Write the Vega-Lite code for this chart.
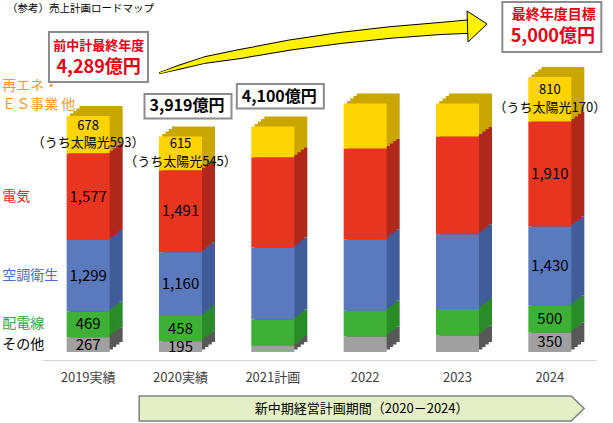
{
  "$schema": "https://vega.github.io/schema/vega-lite/v6.json",
  "width": 554,
  "height": 352,
  "autosize": "none",
  "padding": {"left": 42, "top": 0, "right": 17, "bottom": 71},
  "background": "white",
  "config": {"view": {"stroke": null}, "font": "Noto Sans CJK JP"},
  "title": {
    "text": "（参考）売上計画ロードマップ",
    "anchor": "start",
    "frame": "group",
    "offset": -14,
    "dx": -35,
    "fontSize": 10.5,
    "fontWeight": "normal",
    "color": "#000000",
    "font": "Noto Sans CJK JP"
  },
  "datasets": {
    "bars": [
      {"year": "2019実績", "seg": "その他", "k": 1, "value": 267, "label": "267"},
      {"year": "2019実績", "seg": "配電線", "k": 2, "value": 469, "label": "469"},
      {"year": "2019実績", "seg": "空調衛生", "k": 3, "value": 1299, "label": "1,299"},
      {"year": "2019実績", "seg": "電気", "k": 4, "value": 1577, "label": "1,577"},
      {"year": "2019実績", "seg": "再エネ・ES事業 他", "k": 5, "value": 678, "label": "678\n（うち太陽光593）"},
      {"year": "2020実績", "seg": "その他", "k": 1, "value": 195, "label": "195"},
      {"year": "2020実績", "seg": "配電線", "k": 2, "value": 458, "label": "458"},
      {"year": "2020実績", "seg": "空調衛生", "k": 3, "value": 1160, "label": "1,160"},
      {"year": "2020実績", "seg": "電気", "k": 4, "value": 1491, "label": "1,491"},
      {"year": "2020実績", "seg": "再エネ・ES事業 他", "k": 5, "value": 615, "label": "615\n（うち太陽光545）"},
      {"year": "2021計画", "seg": "その他", "k": 1, "value": 110, "label": ""},
      {"year": "2021計画", "seg": "配電線", "k": 2, "value": 480, "label": ""},
      {"year": "2021計画", "seg": "空調衛生", "k": 3, "value": 1310, "label": ""},
      {"year": "2021計画", "seg": "電気", "k": 4, "value": 1640, "label": ""},
      {"year": "2021計画", "seg": "再エネ・ES事業 他", "k": 5, "value": 560, "label": ""},
      {"year": "2022", "seg": "その他", "k": 1, "value": 280, "label": ""},
      {"year": "2022", "seg": "配電線", "k": 2, "value": 470, "label": ""},
      {"year": "2022", "seg": "空調衛生", "k": 3, "value": 1300, "label": ""},
      {"year": "2022", "seg": "電気", "k": 4, "value": 1650, "label": ""},
      {"year": "2022", "seg": "再エネ・ES事業 他", "k": 5, "value": 820, "label": ""},
      {"year": "2023", "seg": "その他", "k": 1, "value": 300, "label": ""},
      {"year": "2023", "seg": "配電線", "k": 2, "value": 480, "label": ""},
      {"year": "2023", "seg": "空調衛生", "k": 3, "value": 1360, "label": ""},
      {"year": "2023", "seg": "電気", "k": 4, "value": 1780, "label": ""},
      {"year": "2023", "seg": "再エネ・ES事業 他", "k": 5, "value": 600, "label": ""},
      {"year": "2024", "seg": "その他", "k": 1, "value": 350, "label": "350"},
      {"year": "2024", "seg": "配電線", "k": 2, "value": 500, "label": "500"},
      {"year": "2024", "seg": "空調衛生", "k": 3, "value": 1430, "label": "1,430"},
      {"year": "2024", "seg": "電気", "k": 4, "value": 1910, "label": "1,910"},
      {"year": "2024", "seg": "再エネ・ES事業 他", "k": 5, "value": 810, "label": "810\n（うち太陽光170）"}
    ],
    "notes": [
      {"year": "2019実績", "total": 4289, "head": "前中計最終年度", "amount": "4,289億円"},
      {"year": "2020実績", "total": 3919, "head": "", "amount": "3,919億円"},
      {"year": "2021計画", "total": 4100, "head": "", "amount": "4,100億円"},
      {"year": "2024", "total": 5000, "head": "最終年度目標", "amount": "5,000億円"}
    ],
    "period": [
      {"text": "新中期経営計画期間（2020－2024）"}
    ],
    "arrow": [
      {"i": 0.778, "v": 5073, "w": 0},
      {"i": 0.995, "v": 5182, "w": 3},
      {"i": 1.266, "v": 5309, "w": 5.5},
      {"i": 1.645, "v": 5418, "w": 8},
      {"i": 2.186, "v": 5582, "w": 9},
      {"i": 2.728, "v": 5709, "w": 10},
      {"i": 3.269, "v": 5809, "w": 10.5},
      {"i": 3.811, "v": 5882, "w": 11},
      {"i": 4.136, "v": 5918, "w": 12.5}
    ],
    "head": [
      {"i": 4.217, "v": 5918}
    ]
  },
  "layer": [
    {
      "data": {"name": "bars"},
      "transform": [
        {"stack": "value", "groupby": ["year"], "sort": [{"field": "k", "order": "ascending"}], "as": ["v0", "v1"]}
      ],
      "encoding": {
        "x": {
          "field": "year",
          "type": "nominal",
          "sort": null,
          "scale": {
            "domain": ["2019実績", "2020実績", "2021計画", "2022", "2023", "2024"],
            "paddingInner": 0,
            "paddingOuter": 0
          },
          "axis": {
            "title": null,
            "labelAngle": 0,
            "ticks": false,
            "grid": false,
            "domainColor": "#d4d4d4",
            "domainWidth": 1,
            "offset": 8,
            "labelPadding": 11,
            "labelFont": "Noto Sans CJK JP",
            "labelFontSize": 13,
            "labelColor": "#404040"
          }
        }
      },
      "layer": [
        {
          "mark": {"type": "bar", "size": 43, "xOffset": 13, "x2Offset": 13, "yOffset": -10, "y2Offset": -10},
          "encoding": {
            "y": {"field": "v1", "type": "quantitative", "scale": {"domain": [0, 6400], "nice": false}, "axis": null},
            "y2": {"field": "v0"},
            "fill": {
              "field": "seg", "type": "nominal", "legend": null,
              "scale": {"domain": ["その他", "配電線", "空調衛生", "電気", "再エネ・ES事業 他"], "range": ["#585858", "#2A8C28", "#415D99", "#B0281A", "#C9A600"]}
            }
          }
        },
        {
          "mark": {"type": "bar", "size": 43, "xOffset": 9.75, "x2Offset": 9.75, "yOffset": -7.5, "y2Offset": -7.5},
          "encoding": {
            "y": {"field": "v1", "type": "quantitative", "scale": {"domain": [0, 6400], "nice": false}, "axis": null},
            "y2": {"field": "v0"},
            "fill": {"field": "seg", "type": "nominal", "legend": null}
          }
        },
        {
          "mark": {"type": "bar", "size": 43, "xOffset": 6.5, "x2Offset": 6.5, "yOffset": -5, "y2Offset": -5},
          "encoding": {
            "y": {"field": "v1", "type": "quantitative", "scale": {"domain": [0, 6400], "nice": false}, "axis": null},
            "y2": {"field": "v0"},
            "fill": {"field": "seg", "type": "nominal", "legend": null}
          }
        },
        {
          "mark": {"type": "bar", "size": 43, "xOffset": 3.25, "x2Offset": 3.25, "yOffset": -2.5, "y2Offset": -2.5},
          "encoding": {
            "y": {"field": "v1", "type": "quantitative", "scale": {"domain": [0, 6400], "nice": false}, "axis": null},
            "y2": {"field": "v0"},
            "fill": {"field": "seg", "type": "nominal", "legend": null}
          }
        },
        {
          "mark": {"type": "bar", "size": 43},
          "encoding": {
            "y": {"field": "v1", "type": "quantitative", "scale": {"domain": [0, 6400], "nice": false}, "axis": null},
            "y2": {"field": "v0"},
            "color": {
              "field": "seg", "type": "nominal", "legend": null,
              "scale": {"domain": ["その他", "配電線", "空調衛生", "電気", "再エネ・ES事業 他"], "range": ["#A0A0A0", "#3DB035", "#5B79BD", "#E8351F", "#FFD400"]}
            }
          }
        },
        {
          "transform": [
            {"filter": "datum.label != '' && datum.k < 5"},
            {"fold": ["v0", "v1"], "as": ["edge", "pos"]},
            {"aggregate": [{"op": "mean", "field": "pos", "as": "mid"}], "groupby": ["year", "k", "label"]}
          ],
          "mark": {"type": "text", "fontSize": 15, "color": "#000000", "baseline": "middle", "align": "center"},
          "encoding": {
            "y": {"field": "mid", "type": "quantitative", "scale": {"domain": [0, 6400], "nice": false}, "axis": null},
            "text": {"field": "label"}
          }
        },
        {
          "transform": [
            {"filter": "datum.label != '' && datum.k == 5"},
            {"fold": ["v0", "v1"], "as": ["edge", "pos"]},
            {"aggregate": [{"op": "mean", "field": "pos", "as": "mid"}], "groupby": ["year", "k", "label"]}
          ],
          "mark": {"type": "text", "fontSize": 13, "lineHeight": 17.5, "lineBreak": "\n", "color": "#000000", "baseline": "middle", "align": "center", "yOffset": -9},
          "encoding": {
            "y": {"field": "mid", "type": "quantitative", "scale": {"domain": [0, 6400], "nice": false}, "axis": null},
            "text": {"field": "label"}
          }
        },
        {
          "transform": [
            {"filter": "datum.year == '2019実績' && datum.k < 5"},
            {"fold": ["v0", "v1"], "as": ["edge", "pos"]},
            {"aggregate": [{"op": "mean", "field": "pos", "as": "mid"}], "groupby": ["year", "k", "seg"]}
          ],
          "mark": {"type": "text", "fontSize": 14, "baseline": "middle", "align": "left", "dx": -86},
          "encoding": {
            "y": {"field": "mid", "type": "quantitative", "scale": {"domain": [0, 6400], "nice": false}, "axis": null},
            "text": {"field": "seg"},
            "color": {
              "condition": [
                {"test": "datum.k == 2", "value": "#2FA635"},
                {"test": "datum.k == 3", "value": "#4A6FC1"},
                {"test": "datum.k == 4", "value": "#E5291A"}
              ],
              "value": "#000000"
            }
          }
        },
        {
          "transform": [{"filter": "datum.year == '2019実績' && datum.k == 5"}],
          "mark": {"type": "text", "text": ["再エネ・", "ＥＳ事業 他"], "fontSize": 14, "lineHeight": 19, "baseline": "middle", "align": "left", "dx": -86, "yOffset": -30, "color": "#F29B1D"},
          "encoding": {
            "y": {"field": "v1", "type": "quantitative", "scale": {"domain": [0, 6400], "nice": false}, "axis": null}
          }
        },
        {
          "data": {"name": "notes"},
          "transform": [{"filter": "datum.head == ''"}],
          "layer": [
            {
              "mark": {"type": "bar", "size": 87, "fill": "#ffffff", "stroke": "#8c8c8c", "strokeWidth": 2, "xOffset": 7.5, "yOffset": -42.5, "y2Offset": -18},
              "encoding": {
                "y": {"field": "total", "type": "quantitative", "scale": {"domain": [0, 6400], "nice": false}, "axis": null},
                "y2": {"field": "total"}
              }
            },
            {
              "mark": {"type": "text", "fontSize": 16, "fontWeight": "bold", "color": "#000000", "baseline": "middle", "xOffset": 6.5, "yOffset": -30},
              "encoding": {
                "y": {"field": "total", "type": "quantitative", "scale": {"domain": [0, 6400], "nice": false}, "axis": null},
                "text": {"field": "amount"}
              }
            }
          ]
        },
        {
          "data": {"name": "notes"},
          "transform": [{"filter": "datum.year == '2019実績'"}],
          "layer": [
            {
              "mark": {"type": "bar", "size": 99, "fill": "#ffffff", "stroke": "#8c8c8c", "strokeWidth": 2, "xOffset": 10.3, "yOffset": -84, "y2Offset": -34},
              "encoding": {
                "y": {"field": "total", "type": "quantitative", "scale": {"domain": [0, 6400], "nice": false}, "axis": null},
                "y2": {"field": "total"}
              }
            },
            {
              "mark": {"type": "text", "fontSize": 13, "fontWeight": "bold", "color": "#E60012", "baseline": "middle", "xOffset": 10.5, "yOffset": -70},
              "encoding": {
                "y": {"field": "total", "type": "quantitative", "scale": {"domain": [0, 6400], "nice": false}, "axis": null},
                "text": {"field": "head"}
              }
            },
            {
              "mark": {"type": "text", "fontSize": 18, "fontWeight": "bold", "color": "#E60012", "baseline": "middle", "xOffset": 10.5, "yOffset": -48.5},
              "encoding": {
                "y": {"field": "total", "type": "quantitative", "scale": {"domain": [0, 6400], "nice": false}, "axis": null},
                "text": {"field": "amount"}
              }
            }
          ]
        },
        {
          "data": {"name": "notes"},
          "transform": [{"filter": "datum.year == '2024'"}],
          "layer": [
            {
              "mark": {"type": "bar", "size": 99, "fill": "#ffffff", "stroke": "#8c8c8c", "strokeWidth": 2, "xOffset": 2, "yOffset": -75, "y2Offset": -25},
              "encoding": {
                "y": {"field": "total", "type": "quantitative", "scale": {"domain": [0, 6400], "nice": false}, "axis": null},
                "y2": {"field": "total"}
              }
            },
            {
              "mark": {"type": "text", "fontSize": 14, "fontWeight": "bold", "color": "#E60012", "baseline": "middle", "xOffset": 4, "yOffset": -62},
              "encoding": {
                "y": {"field": "total", "type": "quantitative", "scale": {"domain": [0, 6400], "nice": false}, "axis": null},
                "text": {"field": "head"}
              }
            },
            {
              "mark": {"type": "text", "fontSize": 18, "fontWeight": "bold", "color": "#E60012", "baseline": "middle", "xOffset": 3, "yOffset": -40.5},
              "encoding": {
                "y": {"field": "total", "type": "quantitative", "scale": {"domain": [0, 6400], "nice": false}, "axis": null},
                "text": {"field": "amount"}
              }
            }
          ]
        },
        {
          "data": {"name": "period"},
          "layer": [
            {
              "mark": {"type": "point", "shape": "M-1,-0.0562L0.9416,-0.0562L1,0L0.9416,0.0562L-1,0.0562Z", "size": 198025, "filled": true, "fill": "#E4EFC5", "stroke": "#808080", "strokeWidth": 1.5, "opacity": 1, "xOffset": -3.5, "yOffset": 56.5},
              "encoding": {
                "x": {"datum": "2022"},
                "y": {"datum": 0, "type": "quantitative", "scale": {"domain": [0, 6400], "nice": false}, "axis": null}
              }
            },
            {
              "mark": {"type": "text", "fontSize": 13, "color": "#000000", "baseline": "middle", "xOffset": -3.5, "yOffset": 57},
              "encoding": {
                "x": {"datum": "2022"},
                "y": {"datum": 0, "type": "quantitative", "scale": {"domain": [0, 6400], "nice": false}, "axis": null},
                "text": {"field": "text"}
              }
            }
          ]
        }
      ]
    },
    {
      "data": {"name": "arrow"},
      "mark": {"type": "trail", "color": "#000000"},
      "encoding": {
        "x": {"field": "i", "type": "quantitative", "scale": {"domain": [-0.5, 5.5], "nice": false, "zero": false}, "axis": null},
        "y": {"field": "v", "type": "quantitative", "scale": {"domain": [0, 6400], "nice": false}, "axis": null},
        "order": {"field": "i"},
        "size": {"field": "w", "type": "quantitative", "legend": null, "scale": {"type": "linear", "domain": [0, 14], "range": [2, 16], "zero": false}}
      }
    },
    {
      "data": {"name": "arrow"},
      "mark": {"type": "trail", "color": "#FFF200"},
      "encoding": {
        "x": {"field": "i", "type": "quantitative", "scale": {"domain": [-0.5, 5.5], "nice": false, "zero": false}, "axis": null},
        "y": {"field": "v", "type": "quantitative", "scale": {"domain": [0, 6400], "nice": false}, "axis": null},
        "order": {"field": "i"},
        "size": {"field": "w", "type": "quantitative", "legend": null, "scale": {"type": "linear", "domain": [0, 14], "range": [0, 14], "zero": false}}
      }
    },
    {
      "data": {"name": "head"},
      "mark": {"type": "point", "shape": "M-0.677,-1L0.613,-0.161L-0.613,1Z", "size": 961, "filled": true, "fill": "#FFF200", "stroke": "#000000", "strokeWidth": 1, "opacity": 1},
      "encoding": {
        "x": {"field": "i", "type": "quantitative", "scale": {"domain": [-0.5, 5.5], "nice": false, "zero": false}, "axis": null},
        "y": {"field": "v", "type": "quantitative", "scale": {"domain": [0, 6400], "nice": false}, "axis": null}
      }
    }
  ],
  "resolve": {"scale": {"x": "independent", "size": "independent"}}
}
